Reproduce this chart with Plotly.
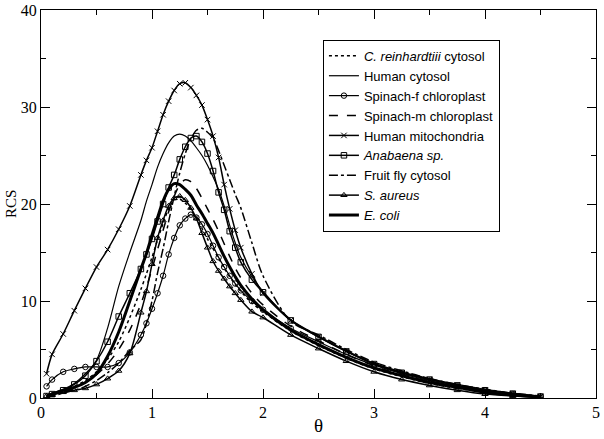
import plotly.graph_objects as go

theta = [0.05, 0.1, 0.2, 0.3, 0.4, 0.5, 0.6, 0.7, 0.8, 0.9, 0.95, 1.0, 1.05, 1.1, 1.15,
         1.2, 1.25, 1.3, 1.35, 1.4, 1.45, 1.5, 1.55, 1.6, 1.65, 1.7, 1.75, 1.8, 1.9, 2.0,
         2.25, 2.5, 2.75, 3.0, 3.25, 3.5, 3.75, 4.0, 4.25, 4.5]

c_reinhardtii = [0.2, 0.4, 0.8, 1.2, 1.8, 2.7, 4.0, 5.8, 8.3, 11.2, 12.8, 14.5, 16.3, 18.0, 19.5,
                 20.4, 20.5, 20.1, 19.4, 18.5, 17.5, 16.4, 15.4, 14.4, 13.4, 12.5, 11.7, 11.0, 9.8, 8.9,
                 6.9, 5.4, 4.1, 3.0, 2.2, 1.5, 1.0, 0.6, 0.3, 0.1]
human_cytosol = [0.3, 0.5, 0.9, 1.5, 2.5, 3.9, 7.2, 11.5, 15.0, 18.3, 20.3, 22.0, 23.8, 25.2, 26.3,
                 27.0, 27.2, 27.0, 26.5, 25.8, 25.0, 24.0, 22.8, 21.5, 19.8, 17.8, 16.0, 14.5, 12.5, 11.0,
                 8.1, 6.4, 4.9, 3.6, 2.7, 2.0, 1.4, 0.9, 0.5, 0.2]
spinach_f = [1.2, 1.9, 2.7, 3.0, 3.2, 3.2, 3.2, 3.6, 4.7, 6.5, 7.7, 9.2, 10.8, 12.6, 14.8,
             16.5, 17.8, 18.5, 18.9, 18.6, 17.9, 16.9, 15.7, 14.5, 13.5, 12.6, 11.8, 11.1, 10.0, 9.1,
             7.2, 5.8, 4.5, 3.4, 2.5, 1.8, 1.2, 0.8, 0.4, 0.15]
spinach_m = [0.1, 0.3, 0.6, 1.0, 1.6, 2.4, 3.5, 5.0, 7.0, 9.7, 11.4, 13.3, 15.3, 17.3, 19.2,
             20.8, 22.0, 22.5, 22.3, 21.6, 20.6, 19.5, 18.4, 17.2, 15.9, 14.6, 13.4, 12.4, 10.8, 9.6,
             7.4, 5.9, 4.5, 3.3, 2.4, 1.7, 1.2, 0.7, 0.4, 0.1]
human_mito = [2.5, 4.5, 6.6, 9.0, 11.3, 13.5, 15.3, 17.4, 19.8, 23.0, 24.5, 25.8, 27.5, 29.2, 30.6,
              31.7, 32.4, 32.5, 32.0, 31.2, 30.2, 28.7, 27.0, 24.8, 22.0, 19.5, 17.3, 15.5, 12.8, 10.8,
              8.0, 6.3, 4.8, 3.5, 2.6, 1.9, 1.3, 0.8, 0.45, 0.15]
anabaena = [0.2, 0.4, 0.8, 1.4, 2.3, 3.8, 5.8, 8.4, 10.8, 13.3, 14.8, 16.4, 18.2, 20.0, 21.7,
            23.0, 24.6, 25.9, 26.8, 27.0, 26.4, 25.2, 23.4, 21.2, 19.4, 17.2, 15.5, 14.0, 12.2, 10.9,
            8.0, 6.3, 4.8, 3.5, 2.6, 1.9, 1.3, 0.8, 0.45, 0.15]
fruit_fly = [0.1, 0.2, 0.5, 0.8, 1.2, 1.8, 2.6, 3.6, 4.9, 6.0, 7.7, 10.0, 12.9, 15.4, 18.2,
             20.8, 23.2, 25.2, 26.7, 27.6, 27.8, 27.4, 26.8, 25.5, 24.0, 22.5, 21.0, 19.6, 16.0, 12.6,
             7.9, 6.5, 5.0, 3.7, 2.8, 2.0, 1.4, 0.9, 0.5, 0.2]
s_aureus = [0.2, 0.3, 0.6, 0.8, 1.0, 1.4, 2.0, 2.8, 4.6, 8.8, 11.0, 13.8, 16.5, 18.3, 19.8,
            20.6, 20.8, 20.4, 19.6, 18.5, 17.0, 15.5, 14.1, 13.1, 12.3, 11.5, 10.8, 10.1, 8.9, 8.3,
            6.5, 5.1, 3.8, 2.7, 1.9, 1.3, 0.8, 0.4, 0.2, 0.05]
e_coli = [0.2, 0.4, 0.8, 1.1, 1.6, 2.5, 4.3, 6.8, 10.0, 13.3, 14.9, 16.8, 18.6, 20.3, 21.5,
          22.1, 22.0, 21.5, 20.9, 19.9, 19.0, 18.0, 17.0, 15.8, 14.6, 13.5, 12.5, 11.6, 10.2, 9.1,
          7.0, 5.5, 4.2, 3.1, 2.3, 1.6, 1.1, 0.6, 0.3, 0.1]

series = [
    ("<i>C. reinhardtiii</i> cytosol", c_reinhardtii, dict(width=1.5, dash="dot"), None),
    ("Human cytosol", human_cytosol, dict(width=1.2), None),
    ("Spinach-f chloroplast", spinach_f, dict(width=1.2), "circle-open"),
    ("Spinach-m chloroplast", spinach_m, dict(width=1.5, dash="dash"), None),
    ("Human mitochondria", human_mito, dict(width=1.5), "x-thin-open"),
    ("<i>Anabaena sp.</i>", anabaena, dict(width=1.5), "square-open"),
    ("Fruit fly cytosol", fruit_fly, dict(width=1.5, dash="dashdot"), None),
    ("<i>S. aureus</i>", s_aureus, dict(width=1.5), "triangle-up-open"),
    ("<i>E. coli</i>", e_coli, dict(width=3), None),
]

fig = go.Figure()
for name, ys, line, sym in series:
    kw = dict(x=theta, y=ys, name=name, line=dict(color="black", shape="spline", smoothing=0.8, **line))
    if sym:
        kw["mode"] = "lines+markers"
        kw["marker"] = dict(symbol=sym, size=5.5, color="black", line=dict(width=1, color="black"))
    else:
        kw["mode"] = "lines"
    fig.add_trace(go.Scatter(**kw))

axis_common = dict(showline=True, linecolor="black", linewidth=1, mirror="allticks",
                   ticks="inside", ticklen=9, tickcolor="black", showgrid=False, zeroline=False,
                   automargin=False, ticklabeloverflow="allow",
                   tickfont=dict(family="Liberation Serif", size=16, color="black"))
fig.update_xaxes(range=[0, 5], dtick=1, tick0=0,
                 minor=dict(dtick=0.5, ticks="inside", ticklen=5, tickcolor="black"),
                 **axis_common)
fig.update_yaxes(range=[0, 40], dtick=10, tick0=0,
                 minor=dict(dtick=5, ticks="inside", ticklen=5, tickcolor="black"),
                 **axis_common)
fig.update_layout(
    width=604, height=439,
    margin=dict(l=41, r=8, t=10, b=41),
    plot_bgcolor="white", paper_bgcolor="white",
    showlegend=True,
    legend=dict(x=0.508, y=0.923, xanchor="left", yanchor="top",
                bordercolor="black", borderwidth=1, bgcolor="white",
                font=dict(family="Liberation Sans", size=13, color="black"),
                tracegroupgap=0, itemwidth=30),
    annotations=[
        dict(text="θ", xref="paper", yref="paper", x=0.5, y=-0.07, xanchor="center", yanchor="middle",
             showarrow=False, font=dict(family="Liberation Serif", size=19, color="black")),
        dict(text="RCS", xref="paper", yref="paper", x=-0.054, y=0.5, xanchor="center", yanchor="middle",
             textangle=-90, showarrow=False, font=dict(family="Liberation Serif", size=15, color="black")),
    ],
)
fig.write_html("out.html", config={"displayModeBar": False},
               post_script="document.body.style.margin='0';document.body.style.overflow='hidden';")
